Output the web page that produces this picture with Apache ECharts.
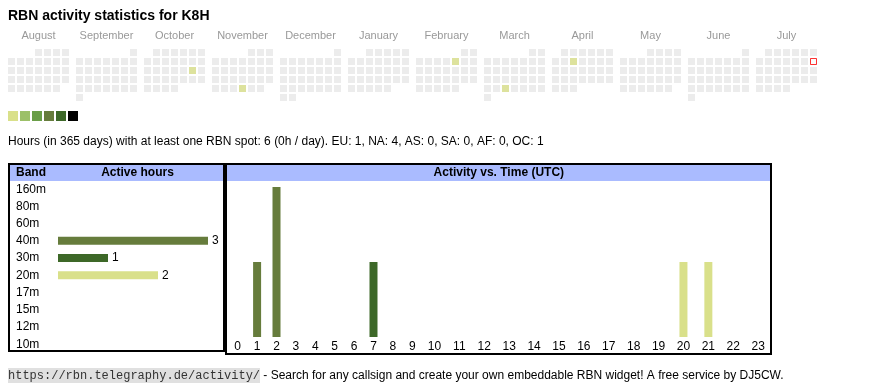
<!DOCTYPE html>
<html><head><meta charset="utf-8">
<script src="https://cdn.jsdelivr.net/npm/echarts@6/dist/echarts.min.js"></script>
<style>html,body{margin:0;padding:0;background:#fff}#c{width:870px;height:390px}</style>
</head><body><div id="c"></div><script>
// ---------- data ----------
const months = ['2024-08','2024-09','2024-10','2024-11','2024-12','2025-01','2025-02','2025-03','2025-04','2025-05','2025-06','2025-07'];
const monthNames = ['August','September','October','November','December','January','February','March','April','May','June','July'];
const activeDays = ['2024-10-19','2024-11-28','2025-02-07','2025-03-26','2025-04-09'];
const activeDayLevels = [1,1,1,1,1];
const today = '2025-07-13';
const levelColors = ['#d9e08a','#9cc068','#6a9e48','#667c3c','#3d6828','#000000'];
const bands = ['160m','80m','60m','40m','30m','20m','17m','15m','12m','10m'];
const bandHours = [0,0,0,3,1,2,0,0,0,0];
const bandColors = ['#9cc068','#6a9e48','#000000','#667c3c','#3d6828','#d9e08a','#9cc068','#6a9e48','#000000','#3d6828'];
const hourLabels = ['0','1','2','3','4','5','6','7','8','9','10','11','12','13','14','15','16','17','18','19','20','21','22','23'];
const hours40m = [0,1,2,0,0,0,0,0,0,0,0,0,0,0,0,0,0,0,0,0,0,0,0,0];
const hours30m = [0,0,0,0,0,0,0,1,0,0,0,0,0,0,0,0,0,0,0,0,0,0,0,0];
const hours20m = [0,0,0,0,0,0,0,0,0,0,0,0,0,0,0,0,0,0,0,0,1,1,0,0];

// ---------- layout ----------
const FONT = '"Liberation Sans", Arial, sans-serif';
const calLeft = 7, calTop = 48, monthPitch = 68, cell = 9;
// html-table-like column widths for the hour axis (depend on label length)
const colW = hourLabels.map(l => 13.9 + 5.5 * l.length);
const centers = []; let acc = 0;
colW.forEach(w => { centers.push(acc + w / 2); acc += w; });
const totalW = acc;

const monthOf = d => months.indexOf(d.slice(0, 7));

const series = [];
months.forEach((m, i) => {
  series.push({
    type: 'scatter', coordinateSystem: 'calendar', calendarIndex: i,
    symbol: 'rect', symbolSize: 7, silent: true,
    data: activeDays.map((d, k) => [d, activeDayLevels[k]]).filter(p => monthOf(p[0]) === i)
  });
});
series.push({
  type: 'scatter', coordinateSystem: 'calendar', calendarIndex: monthOf(today),
  symbol: 'rect', symbolSize: 6, silent: true,
  itemStyle: {color: '#ffffff', borderColor: '#ff0000', borderWidth: 1},
  data: [[today, 0]]
});
series.push({
  type: 'bar', xAxisIndex: 0, yAxisIndex: 0, barWidth: 8, silent: true,
  data: bandHours.map((v, i) => ({value: v, itemStyle: {color: bandColors[i]}})),
  label: {show: true, position: 'right', distance: 4, color: '#000', fontSize: 12, fontFamily: FONT,
          formatter: p => p.value > 0 ? String(p.value) : ''}
});
[[hours40m, '40m'], [hours30m, '30m'], [hours20m, '20m']].forEach(([arr, b]) => {
  series.push({
    type: 'bar', name: b, xAxisIndex: 1, yAxisIndex: 1, stack: 'h', barWidth: 8, silent: true,
    itemStyle: {color: bandColors[bands.indexOf(b)]},
    data: arr.map((v, h) => [centers[h], v])
  });
});

const txt = (x, y, text, o) => ({type: 'text', x, y, silent: true,
  style: Object.assign({text, fill: '#000', font: '12px ' + FONT, textVerticalAlign: 'middle'}, o || {})});

const graphic = [
  txt(8, 16, 'RBN activity statistics for K8H', {font: 'bold 14px ' + FONT}),
  ...monthNames.map((n, i) => txt(calLeft + i * monthPitch + 3.5 * cell, 36, n,
      {font: '11px ' + FONT, fill: '#999', textAlign: 'center'})),
  txt(8, 141.5, 'Hours (in 365 days) with at least one RBN spot: 6 (0h / day). EU: 1, NA: 4, AS: 0, SA: 0, AF: 0, OC: 1'),
  // band table frame
  {type: 'rect', silent: true, shape: {x: 10, y: 165, width: 213, height: 16}, style: {fill: '#aabbff'}},
  {type: 'rect', silent: true, shape: {x: 9, y: 164, width: 215, height: 187}, style: {fill: null, stroke: '#000', lineWidth: 2}},
  txt(16, 173, 'Band', {font: 'bold 12px ' + FONT}),
  txt(137.5, 173, 'Active hours', {font: 'bold 12px ' + FONT, textAlign: 'center'}),
  // activity frame
  {type: 'rect', silent: true, shape: {x: 227, y: 165, width: 543, height: 16}, style: {fill: '#aabbff'}},
  {type: 'rect', silent: true, shape: {x: 226, y: 164, width: 545, height: 190}, style: {fill: null, stroke: '#000', lineWidth: 2}},
  txt(498.8, 173, 'Activity vs. Time (UTC)', {font: 'bold 12px ' + FONT, textAlign: 'center'}),
  // footer
  {type: 'rect', silent: true, shape: {x: 8, y: 368, width: 252, height: 15}, style: {fill: '#e0e0e0'}},
  txt(8, 375.5, 'https://rbn.telegraphy.de/activity/', {font: '12px "Liberation Mono", "Courier New", monospace', fill: '#333'}),
  txt(260, 375.5, ' - Search for any callsign and create your own embeddable RBN widget! A free service by DJ5CW.')
];

const option = {
  animation: false,
  backgroundColor: '#fff',
  textStyle: {fontFamily: FONT},
  calendar: months.map((m, i) => ({
    orient: 'vertical', range: m, left: calLeft + i * monthPitch, top: calTop, cellSize: [cell, cell],
    splitLine: {show: false}, silent: true,
    itemStyle: {color: '#ececec', borderColor: '#ffffff', borderWidth: 2},
    dayLabel: {show: false, firstDay: 1}, monthLabel: {show: false}, yearLabel: {show: false}
  })),
  visualMap: {
    type: 'piecewise', orient: 'horizontal', left: 8, top: 111, padding: 0,
    itemWidth: 10, itemHeight: 10, itemGap: 2, itemSymbol: 'rect', showLabel: false,
    selectedMode: false, hoverLink: false,
    seriesIndex: months.map((m, i) => i),
    pieces: levelColors.map((c, i) => ({value: i + 1, color: c}))
  },
  grid: [
    {left: 58, top: 180.6, width: 150, height: 172.2},
    {left: 228, top: 187, width: totalW, height: 150}
  ],
  xAxis: [
    {gridIndex: 0, type: 'value', min: 0, max: 3, show: false},
    {gridIndex: 1, type: 'value', min: 0, max: totalW,
     splitLine: {show: false}, axisLine: {show: false}, axisTick: {show: false},
     axisLabel: {customValues: centers, margin: 4, fontSize: 12, color: '#000', fontFamily: FONT,
       formatter: v => {let b = 0; centers.forEach((c, i) => { if (Math.abs(c - v) < Math.abs(centers[b] - v)) b = i; }); return hourLabels[b];}}}
  ],
  yAxis: [
    {gridIndex: 0, type: 'category', data: bands, inverse: true,
     axisLine: {show: false}, axisTick: {show: false}, splitLine: {show: false},
     axisLabel: {align: 'left', margin: 42, fontSize: 12, color: '#000', fontFamily: FONT, padding: [2, 0, 0, 0]}},
    {gridIndex: 1, type: 'value', min: 0, max: 2, show: false}
  ],
  series,
  graphic
};
const chart = echarts.init(document.getElementById('c'));
chart.setOption(option);
</script></body></html>
